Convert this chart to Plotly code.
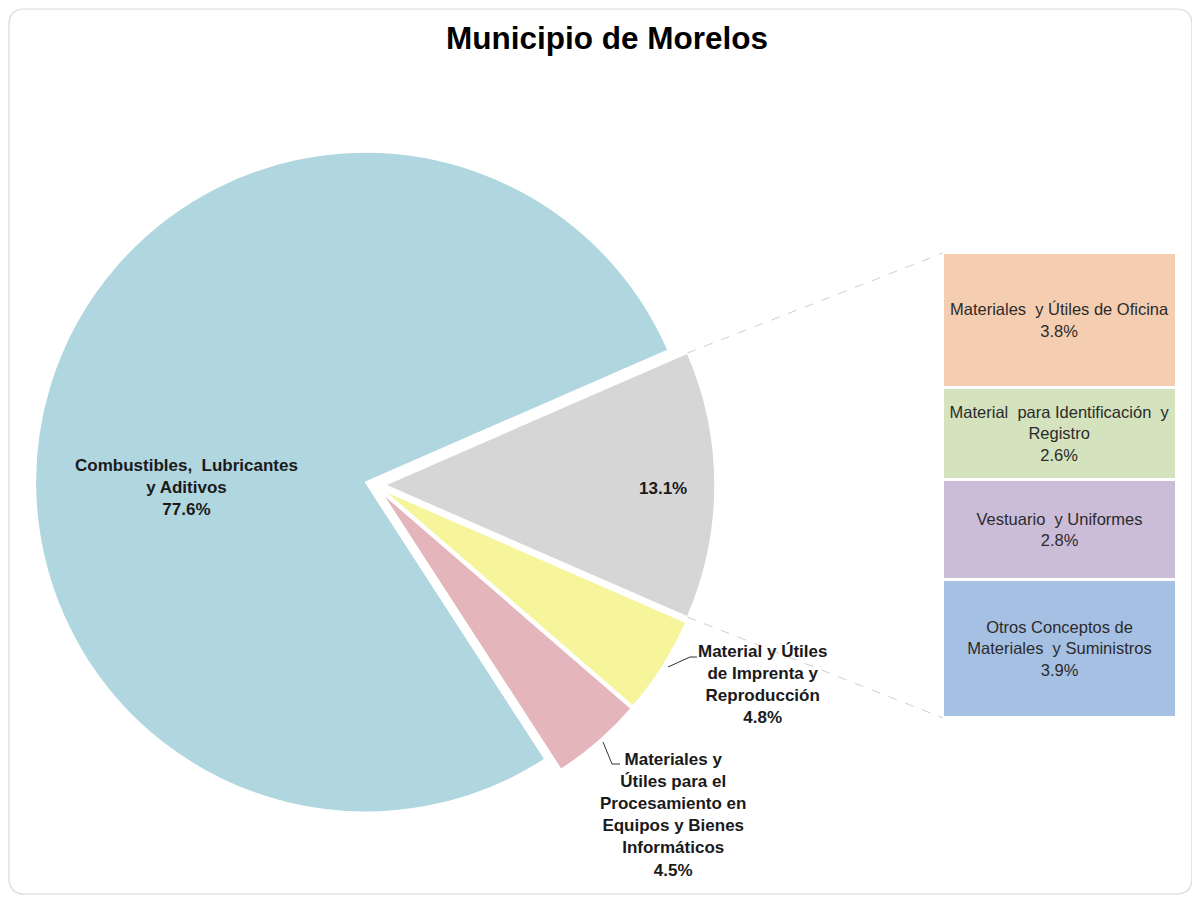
import math
import plotly.graph_objects as go

# ---------------- data ----------------
pie_labels = [
    "Otros",
    "Material y Útiles de Imprenta y Reproducción",
    "Materiales y Útiles para el Procesamiento en Equipos y Bienes Informáticos",
    "Combustibles, Lubricantes y Aditivos",
]
pie_values = [13.1, 4.8, 4.5, 77.6]
pie_colors = ["#D6D6D6", "#F6F59B", "#E4B6BB", "#B0D6DF"]

# bar (breakdown of the 13.1% slice), listed bottom to top
bar_labels = [
    "Otros Conceptos de<br>Materiales  y Suministros",
    "Vestuario  y Uniformes",
    "Material  para Identificación  y<br>Registro",
    "Materiales  y Útiles de Oficina",
]
bar_values = [3.9, 2.8, 2.6, 3.8]
bar_colors = ["#A6C0E4", "#CBBCD8", "#D4E2BE", "#F5CDB0"]

title_text = "Municipio de Morelos"

# ---------------- geometry helpers ----------------
W, H = 1200, 901
OFF = 8  # page body margin in the browser
def px(x):
    return (x - OFF) / W
def py(y):
    return 1 - (y - OFF) / H

PIE_CX, PIE_CY = 375, 485   # pixel centre of the pie (screen)
PULL = 0.03
R_OUT = 340                 # radius incl. pull
R = R_OUT / (1 + PULL)

grey_share = pie_values[0] / sum(pie_values)
rotation = 90 - grey_share * 360 / 2

BAR_X0, BAR_X1 = 943, 1177
BAR_Y0, BAR_Y1 = 253, 718

fig = go.Figure()

fig.add_trace(go.Pie(
    labels=pie_labels,
    values=pie_values,
    sort=False,
    direction="clockwise",
    rotation=rotation,
    pull=[PULL] * len(pie_values),
    marker=dict(colors=pie_colors, line=dict(color="white", width=1.5)),
    textinfo="none",
    hoverinfo="label+percent",
    showlegend=False,
    domain=dict(x=[px(PIE_CX - R_OUT), px(PIE_CX + R_OUT)],
                y=[py(PIE_CY + R_OUT), py(PIE_CY - R_OUT)]),
))

for lab, val, col in zip(bar_labels, bar_values, bar_colors):
    fig.add_trace(go.Bar(
        x=["Otros"], y=[val],
        marker=dict(color=col, line=dict(color="white", width=3)),
        text=[f"{lab}<br>{val:.1f}%"],
        textposition="inside",
        insidetextanchor="middle",
        textangle=0,
        textfont=dict(family="Arial, Liberation Sans", size=16.5, color="#2b2b2b"),
        showlegend=False,
        hoverinfo="skip",
    ))

fig.update_layout(
    width=W, height=H,
    margin=dict(l=0, r=0, t=0, b=0),
    paper_bgcolor="white",
    plot_bgcolor="rgba(0,0,0,0)",
    barmode="stack",
    bargap=0,
    xaxis=dict(domain=[px(BAR_X0), px(BAR_X1)], visible=False, fixedrange=True),
    yaxis=dict(domain=[py(BAR_Y1), py(BAR_Y0)], range=[0, sum(bar_values)],
               visible=False, fixedrange=True),
)

# connector lines from the grey slice to the bar
grey_cx = PIE_CX + R * PULL
a0 = math.radians(rotation)
a1 = math.radians(rotation + grey_share * 360)
top_corner = (grey_cx + R * math.sin(a0), PIE_CY - R * math.cos(a0))
bot_corner = (grey_cx + R * math.sin(a1), PIE_CY - R * math.cos(a1))
for (cx, cy), by in ((top_corner, BAR_Y0), (bot_corner, BAR_Y1)):
    fig.add_shape(type="line", xref="paper", yref="paper",
                  x0=px(cx), y0=py(cy), x1=px(BAR_X0), y1=py(by),
                  line=dict(color="#CFCFCF", width=1, dash="dash"))

# outer rounded frame
fx0, fy0, fx1, fy1, rr = 9, 9, 1192, 894, 16
path = (f"M {px(fx0+rr)} {py(fy0)} L {px(fx1-rr)} {py(fy0)} "
        f"Q {px(fx1)} {py(fy0)} {px(fx1)} {py(fy0+rr)} "
        f"L {px(fx1)} {py(fy1-rr)} Q {px(fx1)} {py(fy1)} {px(fx1-rr)} {py(fy1)} "
        f"L {px(fx0+rr)} {py(fy1)} Q {px(fx0)} {py(fy1)} {px(fx0)} {py(fy1-rr)} "
        f"L {px(fx0)} {py(fy0+rr)} Q {px(fx0)} {py(fy0)} {px(fx0+rr)} {py(fy0)} Z")
fig.add_shape(type="path", xref="paper", yref="paper", path=path,
              line=dict(color="#D9D9D9", width=1.2), layer="below")

# leader lines for outside labels
def leader(points):
    d = "M " + " L ".join(f"{px(x)} {py(y)}" for x, y in points)
    fig.add_shape(type="path", xref="paper", yref="paper", path=d,
                  line=dict(color="#333333", width=1))

leader([(668, 667), (690, 657), (697, 657)])
leader([(603, 742), (612, 764), (620, 764)])

lab_font = dict(family="Arial, Liberation Sans", size=17, color="#1a1a1a")

def ann(x, y, text, font=lab_font):
    fig.add_annotation(x=px(x), y=py(y), xref="paper", yref="paper",
                       text=text, showarrow=False, font=font,
                       xanchor="center", yanchor="middle", align="center")

ann(186, 487, "<b>Combustibles,  Lubricantes<br>y Aditivos<br>"
    f"{pie_values[3]:.1f}%</b>")
ann(663, 488, f"<b>{pie_values[0]:.1f}%</b>")
ann(762, 684, "<b>Material y Útiles<br>de Imprenta y<br>Reproducción<br>"
    f"{pie_values[1]:.1f}%</b>")
ann(673, 815, "<b>Materiales y<br>Útiles para el<br>Procesamiento en<br>"
    f"Equipos y Bienes<br>Informáticos<br>{pie_values[2]:.1f}%</b>")

ann(607, 38, f"<b>{title_text}</b>",
    font=dict(family="Arial, Liberation Sans", size=31.5, color="#000000"))

fig.write_html("out.html")
